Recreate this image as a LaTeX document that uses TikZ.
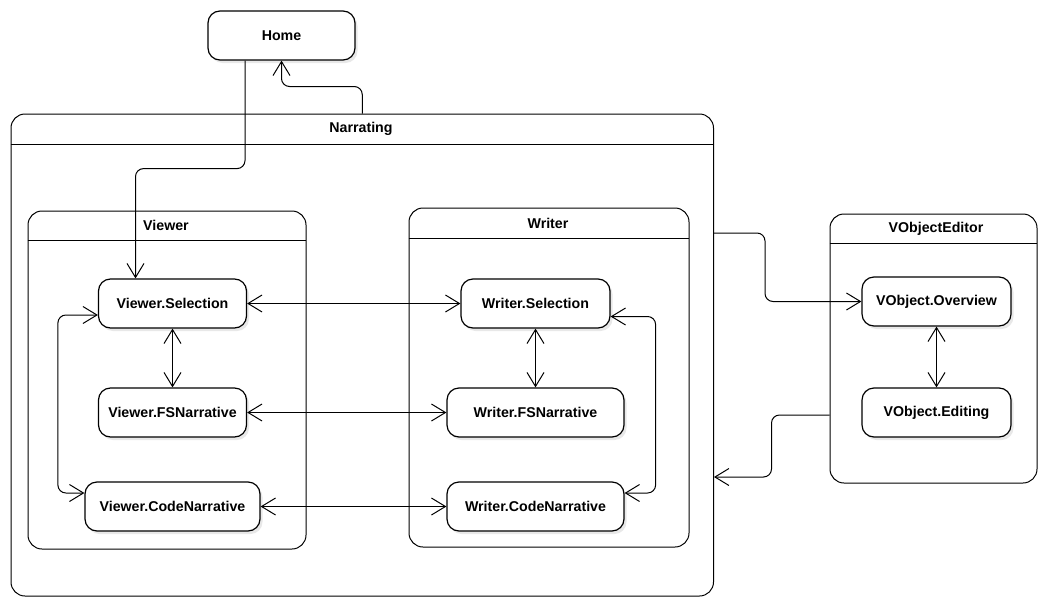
\documentclass[tikz,border=0pt]{standalone}
\usepackage{fontspec}
\setmainfont{Liberation Sans}
\usetikzlibrary{arrows.meta,shadows}
\begin{document}
\begin{tikzpicture}[x=1pt,y=-1pt,
  every node/.style={font=\fontsize{14.2}{17}\selectfont\bfseries},
  state/.style={draw, line width=1.2pt, rounded corners=12pt, fill=white, minimum height=49pt, inner sep=0pt,
    drop shadow={shadow xshift=2.5pt,shadow yshift=-3pt,opacity=0.18}},
  container/.style={draw, line width=1pt, rounded corners=14pt, anchor=north west, inner sep=0pt},
  lbl/.style={inner sep=0pt},
  hdr/.style={line width=1pt},
  tip/.tip={Straight Barb[length=14pt,width=17pt]},
  arr/.style={line width=1pt, -tip, rounded corners=8pt},
  arrb/.style={line width=1pt, tip-tip, rounded corners=8pt},
]
\useasboundingbox (0,0) rectangle (1038,597);

% containers
\node[container, minimum width=702.5pt, minimum height=482pt] (narr) at (10.5,113.5) {};
\draw[hdr] (10.5,144.5) -- (713,144.5);
\node[lbl] (narrl) at (361,129) {Narrating};

\node[container, minimum width=278pt, minimum height=338pt] (viewer) at (27.5,210.5) {};
\draw[hdr] (27.5,240.5) -- (305.5,240.5);
\node[lbl] (viewerl) at (166,225.5) {Viewer};

\node[container, minimum width=280pt, minimum height=339pt] (writer) at (408.5,207.5) {};
\draw[hdr] (408.5,238.5) -- (688.5,238.5);
\node[lbl] (writerl) at (548,223) {Writer};

\node[container, minimum width=207pt, minimum height=269pt] (vobj) at (829.5,213.5) {};
\draw[hdr] (829.5,243.5) -- (1036.5,243.5);
\node[lbl] (vobjl) at (936,228.5) {VObjectEditor};

% states
\node[state, minimum width=147pt] (home) at (281.5,35.5) {Home};
\node[state, minimum width=148pt] (vsel) at (172.5,303.5) {Viewer.Selection};
\node[state, minimum width=148pt] (vfs) at (172.5,412.5) {Viewer.FSNarrative};
\node[state, minimum width=175pt] (vcode) at (172.5,506.5) {Viewer.CodeNarrative};
\node[state, minimum width=149pt] (wsel) at (535.5,303.5) {Writer.Selection};
\node[state, minimum width=177pt] (wfs) at (535.5,412.5) {Writer.FSNarrative};
\node[state, minimum width=177pt] (wcode) at (535.5,506.5) {Writer.CodeNarrative};
\node[state, minimum width=149pt] (vov) at (936.5,301.5) {VObject.Overview};
\node[state, minimum width=149pt] (ved) at (936.5,412.5) {VObject.Editing};

% connectors
\draw[arr] (narr.north) -- ++(0,-27) -| (home.south);
\draw[arr] ([xshift=-36.5pt]home.south) -- ++(0,108) -| ([xshift=-37pt]vsel.north);
\draw[arrb] ([yshift=-11.5pt]vsel.west) -- ++(-40,0) |- ([yshift=13.5pt]vcode.west);
\draw[arrb] (vsel.south) -- (vfs.north);
\draw[arrb] (vsel.east) -- (wsel.west);
\draw[arrb] (vfs.east) -- (wfs.west);
\draw[arrb] (vcode.east) -- (wcode.west);
\draw[arrb] (wsel.south) -- (wfs.north);
\draw[arrb] ([yshift=-13pt]wsel.east) -- ++(45,0) |- ([yshift=13.5pt]wcode.east);
\draw[arr] ([yshift=122pt]narr.east) -- ++(51,0) |- (vov.west);
\draw[arr] ([yshift=-66.5pt]vobj.west) -- ++(-58,0) |- ([yshift=-122pt]narr.east);
\draw[arrb] (vov.south) -- (ved.north);
\end{tikzpicture}
\end{document}
